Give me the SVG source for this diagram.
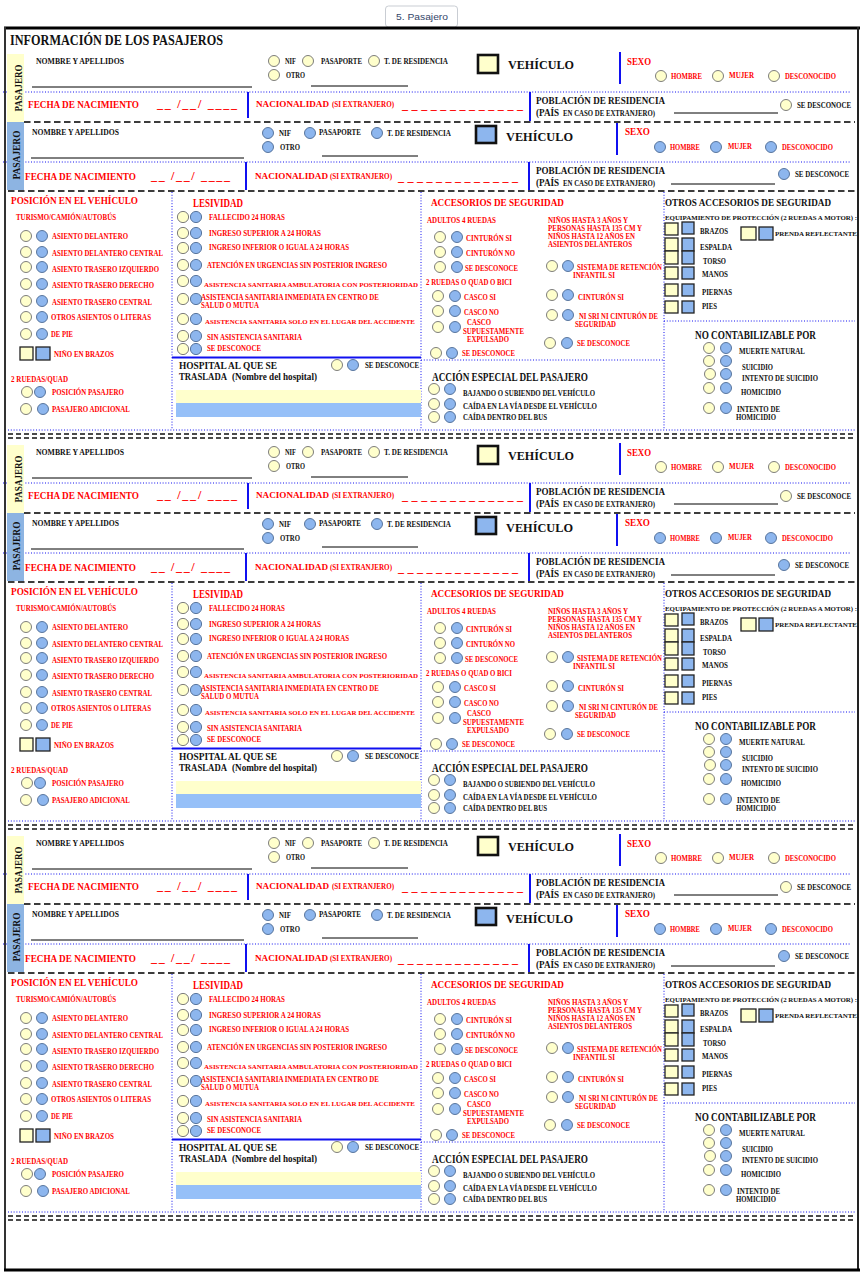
<svg xmlns="http://www.w3.org/2000/svg" width="863" height="1274" viewBox="0 0 863 1274">
<style>
.t{font-family:"Liberation Serif","Times New Roman",serif;font-weight:700}
.r{fill:#FF0000}
.k{fill:#111}
.f7{font-size:7.5px}
.f68{font-size:6.8px}
.f70{font-size:7px}
.f8{font-size:8.5px}
.f10{font-size:10px}
.ff{font-size:10.3px}
.f11{font-size:11px}
.f12{font-size:12px}
.f13{font-size:13px}
.tr{font-size:9.5px}
.y{fill:#FFFFCC;stroke:#6E6E6E;stroke-width:0.9}
.b{fill:#8DB6EE;stroke:#4C6A93;stroke-width:0.9}
.ys{fill:#FFFFCC;stroke:#222;stroke-width:1.3}
.bs{fill:#8DB6EE;stroke:#222;stroke-width:1.3}
.veh{stroke:#111;stroke-width:2.6}
.dot{stroke:#1010F0;stroke-width:1;stroke-dasharray:1 1.8;fill:none}
.dash{stroke:#3C3C3C;stroke-width:2;stroke-dasharray:6.5 3.5;fill:none}
.dd{stroke:#111;stroke-width:1.6;stroke-dasharray:5 3;fill:none}
.vb{stroke:#1010F0;stroke-width:2}
.ul{stroke:#000;stroke-width:1}
.bar-y{fill:#FFFFCC}
.bar-b{fill:#96C0F8}
</style>

<g id="frame">
<rect x="385.5" y="6" width="72" height="21" rx="3" fill="#FFFFFF" stroke="#C9CDD3" stroke-width="1"/>
<text x="396" y="19.5" font-family="'Liberation Sans','DejaVu Sans',sans-serif" font-size="9.5" fill="#34466A" textLength="52" lengthAdjust="spacingAndGlyphs">5. Pasajero</text>
<line x1="4" y1="28" x2="860" y2="28" stroke="#000" stroke-width="3"/>
<line x1="5" y1="27" x2="5" y2="1271" stroke="#333" stroke-width="2"/>
<line x1="858" y1="27" x2="858" y2="1271" stroke="#222" stroke-width="2"/>
<line x1="4" y1="1270" x2="860" y2="1270" stroke="#000" stroke-width="3"/>
<text class="t k" font-size="14" x="10" y="45" textLength="213" lengthAdjust="spacingAndGlyphs">INFORMACIÓN DE LOS PASAJEROS</text>
</g>

<!-- ================= BLOCK 1 ================= -->
<g id="b1">
<g id="b1-connectors">
<line class="dot" x1="3" y1="92" x2="850" y2="92"/>
<line class="dash" x1="24" y1="122" x2="855" y2="122"/>
<line class="dot" x1="3" y1="162" x2="850" y2="162"/>
<line class="dash" x1="8" y1="191" x2="855" y2="191"/>
<line class="vb" x1="620" y1="52" x2="620" y2="84"/>
<line class="vb" x1="248" y1="92" x2="248" y2="118"/>
<line class="vb" x1="530" y1="92" x2="530" y2="121"/>
<line class="vb" x1="617" y1="123" x2="617" y2="155"/>
<line class="vb" x1="246" y1="162" x2="246" y2="190"/>
<line class="vb" x1="529" y1="162" x2="529" y2="190"/>
<line class="dot" x1="172" y1="192" x2="172" y2="430"/>
<line class="dot" x1="421" y1="192" x2="421" y2="430"/>
<line class="dot" x1="664" y1="192" x2="664" y2="430"/>
<line class="vb" x1="172" y1="357.5" x2="421" y2="357.5" stroke-width="2.4"/>
<line class="dot" x1="421" y1="360" x2="664" y2="360"/>
<line class="dot" x1="664" y1="321" x2="855" y2="321"/>
<line class="dot" x1="8" y1="430" x2="855" y2="430"/>
<line class="dd" x1="8" y1="434" x2="855" y2="434"/>
<line class="dd" x1="8" y1="438" x2="855" y2="438"/>
</g>
<g id="b1-pasajero-a">
<rect x="7" y="54" width="17" height="68" fill="#FFFFCC"/>
<text class="t k f10" text-anchor="middle" transform="translate(21.5,88) rotate(-90)" textLength="47" lengthAdjust="spacingAndGlyphs">PASAJERO</text>
<text class="t k f8" x="36" y="64" textLength="88" lengthAdjust="spacingAndGlyphs">NOMBRE Y APELLIDOS</text>
<line class="ul" x1="32" y1="87" x2="252" y2="87"/>
<circle class="y" cx="274" cy="61" r="5.5"/><circle class="y" cx="308" cy="61" r="5.5"/><circle class="y" cx="374" cy="61" r="5.5"/><circle class="y" cx="274" cy="75" r="5.5"/>
<text class="t k f7" x="285" y="64" textLength="11" lengthAdjust="spacingAndGlyphs">NIF</text>
<text class="t k f7" x="321" y="64" textLength="41" lengthAdjust="spacingAndGlyphs">PASAPORTE</text>
<text class="t k f7" x="384" y="64" textLength="64" lengthAdjust="spacingAndGlyphs">T. DE RESIDENCIA</text>
<text class="t k f7" x="286" y="78" textLength="19" lengthAdjust="spacingAndGlyphs">OTRO</text>
<line class="ul" x1="311" y1="86" x2="408" y2="86"/>
<rect class="veh" x="478" y="55" width="20" height="18" fill="#FFFFCC"/>
<text class="t k f13" x="508" y="69" textLength="66" lengthAdjust="spacingAndGlyphs">VEHÍCULO</text>
<text class="t r f11" x="627" y="65" textLength="24" lengthAdjust="spacingAndGlyphs">SEXO</text>
<circle class="y" cx="661" cy="76" r="5.5"/><circle class="y" cx="718" cy="76" r="5.5"/><circle class="y" cx="774" cy="76" r="5.5"/>
<text class="t r f7" x="671" y="79" textLength="31" lengthAdjust="spacingAndGlyphs">HOMBRE</text>
<text class="t r f7" x="729" y="78" textLength="25" lengthAdjust="spacingAndGlyphs">MUJER</text>
<text class="t r f7" x="785" y="79" textLength="51" lengthAdjust="spacingAndGlyphs">DESCONOCIDO</text>
<text class="t r ff" x="28" y="108" textLength="111" lengthAdjust="spacingAndGlyphs">FECHA DE NACIMIENTO</text>
<text class="t r f12" x="157" y="108" textLength="80" lengthAdjust="spacing">__ /__/ ____</text>
<text class="t r" font-size="7.6"><tspan font-size="9.2" x="256" y="107" textLength="73" lengthAdjust="spacingAndGlyphs">NACIONALIDAD</tspan> <tspan x="332" y="107" textLength="62" lengthAdjust="spacingAndGlyphs">(SI EXTRANJERO)</tspan></text>
<text class="t r f12" x="402" y="109" textLength="121" lengthAdjust="spacing">_ _ _ _ _ _ _ _ _ _ _ _ _</text>
<text class="t k f11" x="536" y="104" textLength="129" lengthAdjust="spacingAndGlyphs">POBLACIÓN DE RESIDENCIA</text>
<text class="t k f7"><tspan class="f10" x="536" y="116" textLength="23" lengthAdjust="spacingAndGlyphs">(PAÍS</tspan> <tspan x="563" y="116" textLength="92" lengthAdjust="spacingAndGlyphs">EN CASO DE EXTRANJERO)</tspan></text>
<line class="ul" x1="674" y1="113" x2="778" y2="113"/>
<circle class="y" cx="786" cy="105" r="5.5"/>
<text class="t k f7" x="797" y="108" textLength="54" lengthAdjust="spacingAndGlyphs">SE DESCONOCE</text>
</g>
<g id="b1-pasajero-b">
<rect x="7" y="122" width="17" height="68" fill="#8DB4E2"/>
<text class="t k f10" text-anchor="middle" transform="translate(19.5,155) rotate(-90)" textLength="49" lengthAdjust="spacingAndGlyphs">PASAJERO</text>
<text class="t k f8" x="32" y="135" textLength="87" lengthAdjust="spacingAndGlyphs">NOMBRE Y APELLIDOS</text>
<line class="ul" x1="31" y1="158" x2="244" y2="158"/>
<circle class="b" cx="268" cy="133" r="5.5"/><circle class="b" cx="310" cy="133" r="5.5"/><circle class="b" cx="377" cy="133" r="5.5"/><circle class="b" cx="268" cy="147" r="5.5"/>
<text class="t k f7" x="279" y="136" textLength="12" lengthAdjust="spacingAndGlyphs">NIF</text>
<text class="t k f7" x="319" y="135" textLength="42" lengthAdjust="spacingAndGlyphs">PASAPORTE</text>
<text class="t k f7" x="387" y="136" textLength="64" lengthAdjust="spacingAndGlyphs">T. DE RESIDENCIA</text>
<text class="t k f7" x="280" y="150" textLength="20" lengthAdjust="spacingAndGlyphs">OTRO</text>
<line class="ul" x1="322" y1="156" x2="418" y2="156"/>
<rect class="veh" x="476" y="126" width="20" height="17" fill="#8DB6EE"/>
<text class="t k f13" x="506" y="141" textLength="67" lengthAdjust="spacingAndGlyphs">VEHÍCULO</text>
<text class="t r f11" x="625" y="135" textLength="25" lengthAdjust="spacingAndGlyphs">SEXO</text>
<circle class="b" cx="660" cy="147" r="5.5"/><circle class="b" cx="716" cy="147" r="5.5"/><circle class="b" cx="771" cy="147" r="5.5"/>
<text class="t r f7" x="670" y="150" textLength="30" lengthAdjust="spacingAndGlyphs">HOMBRE</text>
<text class="t r f7" x="728" y="149" textLength="24" lengthAdjust="spacingAndGlyphs">MUJER</text>
<text class="t r f7" x="782" y="150" textLength="51" lengthAdjust="spacingAndGlyphs">DESCONOCIDO</text>
<text class="t r ff" x="25" y="180" textLength="111" lengthAdjust="spacingAndGlyphs">FECHA DE NACIMIENTO</text>
<text class="t r f12" x="151" y="180" textLength="79" lengthAdjust="spacing">__ /__/ ____</text>
<text class="t r" font-size="7.5"><tspan font-size="9.1" x="255" y="179" textLength="73" lengthAdjust="spacingAndGlyphs">NACIONALIDAD</tspan> <tspan x="330" y="179" textLength="62" lengthAdjust="spacingAndGlyphs">(SI EXTRANJERO)</tspan></text>
<text class="t r f12" x="398" y="181" textLength="120" lengthAdjust="spacing">_ _ _ _ _ _ _ _ _ _ _ _ _</text>
<text class="t k f11" x="536" y="174" textLength="129" lengthAdjust="spacingAndGlyphs">POBLACIÓN DE RESIDENCIA</text>
<text class="t k f7"><tspan class="f10" x="536" y="186" textLength="23" lengthAdjust="spacingAndGlyphs">(PAÍS</tspan> <tspan x="563" y="186" textLength="92" lengthAdjust="spacingAndGlyphs">EN CASO DE EXTRANJERO)</tspan></text>
<line class="ul" x1="671" y1="184" x2="775" y2="184"/>
<circle class="b" cx="784" cy="174" r="5.5"/>
<text class="t k f7" x="795" y="177" textLength="54" lengthAdjust="spacingAndGlyphs">SE DESCONOCE</text>
</g>
<g id="b1-posicion">
<text class="t r f11" x="11" y="204" textLength="127" lengthAdjust="spacingAndGlyphs">POSICIÓN EN EL VEHÍCULO</text>
<text class="t r f7" x="16" y="220" textLength="100" lengthAdjust="spacingAndGlyphs">TURISMO/CAMIÓN/AUTOBÚS</text>
<circle class="y" cx="26" cy="236" r="5.5"/><circle class="b" cx="42" cy="236" r="5.5"/>
<circle class="y" cx="26" cy="252" r="5.5"/><circle class="b" cx="42" cy="252" r="5.5"/>
<circle class="y" cx="26" cy="267" r="5.5"/><circle class="b" cx="42" cy="267" r="5.5"/>
<circle class="y" cx="26" cy="284" r="5.5"/><circle class="b" cx="42" cy="284" r="5.5"/>
<circle class="y" cx="26" cy="301" r="5.5"/><circle class="b" cx="42" cy="301" r="5.5"/>
<circle class="y" cx="26" cy="317" r="5.5"/><circle class="b" cx="42" cy="317" r="5.5"/>
<circle class="y" cx="26" cy="334" r="5.5"/><circle class="b" cx="42" cy="334" r="5.5"/>
<text class="t r f7" x="52" y="239" textLength="76" lengthAdjust="spacingAndGlyphs">ASIENTO DELANTERO</text>
<text class="t r f7" x="52" y="256" textLength="111" lengthAdjust="spacingAndGlyphs">ASIENTO DELANTERO CENTRAL</text>
<text class="t r f7" x="52" y="272" textLength="107" lengthAdjust="spacingAndGlyphs">ASIENTO TRASERO IZQUIERDO</text>
<text class="t r f7" x="52" y="288" textLength="102" lengthAdjust="spacingAndGlyphs">ASIENTO TRASERO DERECHO</text>
<text class="t r f7" x="52" y="305" textLength="100" lengthAdjust="spacingAndGlyphs">ASIENTO TRASERO CENTRAL</text>
<text class="t r f7" x="51" y="320" textLength="100" lengthAdjust="spacingAndGlyphs">OTROS ASIENTOS O LITERAS</text>
<text class="t r f7" x="51" y="337" textLength="22" lengthAdjust="spacingAndGlyphs">DE PIE</text>
<rect class="ys" x="20" y="347" width="13" height="13"/><rect class="bs" x="36" y="347" width="14" height="13"/>
<text class="t r f7" x="54" y="357" textLength="60" lengthAdjust="spacingAndGlyphs">NIÑO EN BRAZOS</text>
<text class="t r f7" x="11" y="382" textLength="57" lengthAdjust="spacingAndGlyphs">2 RUEDAS/QUAD</text>
<circle class="y" cx="27" cy="392" r="5.5"/><circle class="b" cx="40" cy="392" r="5.5"/>
<text class="t r f7" x="52" y="395" textLength="72" lengthAdjust="spacingAndGlyphs">POSICIÓN PASAJERO</text>
<circle class="y" cx="26" cy="409" r="5.5"/><circle class="b" cx="43" cy="409" r="5.5"/>
<text class="t r f7" x="52" y="412" textLength="78" lengthAdjust="spacingAndGlyphs">PASAJERO ADICIONAL</text>
</g>
<g id="b1-lesividad">
<text class="t r f12" x="193" y="207" textLength="50" lengthAdjust="spacingAndGlyphs">LESIVIDAD</text>
<circle class="y" cx="183" cy="217" r="5.6"/><circle class="b" cx="196" cy="217" r="5.6"/>
<circle class="y" cx="183" cy="233" r="5.6"/><circle class="b" cx="196" cy="233" r="5.6"/>
<circle class="y" cx="183" cy="248" r="5.6"/><circle class="b" cx="196" cy="248" r="5.6"/>
<circle class="y" cx="183" cy="265" r="5.6"/><circle class="b" cx="196" cy="265" r="5.6"/>
<circle class="y" cx="183" cy="281" r="5.6"/><circle class="b" cx="196" cy="281" r="5.6"/>
<circle class="y" cx="183" cy="299" r="5.6"/><circle class="b" cx="196" cy="299" r="5.6"/>
<circle class="y" cx="183" cy="319" r="5.6"/><circle class="b" cx="196" cy="319" r="5.6"/>
<circle class="y" cx="183" cy="336" r="5.6"/><circle class="b" cx="196" cy="336" r="5.6"/>
<circle class="y" cx="183" cy="349" r="5.6"/><circle class="b" cx="196" cy="349" r="5.6"/>
<text class="t r f7" x="209" y="220" textLength="76" lengthAdjust="spacingAndGlyphs">FALLECIDO 24 HORAS</text>
<text class="t r f7" x="209" y="236" textLength="112" lengthAdjust="spacingAndGlyphs">INGRESO SUPERIOR A  24 HORAS</text>
<text class="t r f7" x="209" y="250" textLength="140" lengthAdjust="spacingAndGlyphs">INGRESO INFERIOR O IGUAL A 24 HORAS</text>
<text class="t r f7" x="207" y="268" textLength="180" lengthAdjust="spacingAndGlyphs">ATENCIÓN EN URGENCIAS SIN POSTERIOR INGRESO</text>
<text class="t r f68" x="204" y="287" textLength="214" lengthAdjust="spacingAndGlyphs">ASISTENCIA SANITARIA AMBULATORIA CON POSTERIORIDAD</text>
<text class="t r f7" x="201" y="300" textLength="178" lengthAdjust="spacingAndGlyphs">ASISTENCIA SANITARIA INMEDIATA EN CENTRO DE</text>
<text class="t r f7" x="201" y="308" textLength="58" lengthAdjust="spacingAndGlyphs">SALUD O MUTUA</text>
<text class="t r f68" x="205" y="324" textLength="210" lengthAdjust="spacingAndGlyphs">ASISTENCIA SANITARIA SOLO EN EL LUGAR DEL ACCIDENTE</text>
<text class="t r f7" x="207" y="340" textLength="95" lengthAdjust="spacingAndGlyphs">SIN ASISTENCIA SANITARIA</text>
<text class="t r f7" x="207" y="351" textLength="54" lengthAdjust="spacingAndGlyphs">SE DESCONOCE</text>
</g>
<g id="b1-hospital">
<text class="t k f11" x="179" y="369" textLength="98" lengthAdjust="spacingAndGlyphs">HOSPITAL AL QUE SE</text>
<text class="t k f10"><tspan class="tr" x="179" y="380" textLength="48" lengthAdjust="spacingAndGlyphs">TRASLADA</tspan> <tspan x="232" y="380" textLength="85" lengthAdjust="spacingAndGlyphs">(Nombre del hospital)</tspan></text>
<circle class="y" cx="337" cy="365" r="5.5"/><circle class="b" cx="353" cy="365" r="5.5"/>
<text class="t k f7" x="365" y="368" textLength="54" lengthAdjust="spacingAndGlyphs">SE DESCONOCE</text>
<rect class="bar-y" x="176" y="390" width="245" height="13"/>
<rect class="bar-b" x="176" y="403" width="245" height="14"/>
</g>
<g id="b1-accesorios">
<text class="t r f11" x="431" y="206" textLength="133" lengthAdjust="spacingAndGlyphs">ACCESORIOS DE SEGURIDAD</text>
<text class="t r f7" x="427" y="223" textLength="69" lengthAdjust="spacingAndGlyphs">ADULTOS 4 RUEDAS</text>
<circle class="y" cx="440" cy="237" r="5.5"/><circle class="b" cx="457" cy="237" r="5.5"/>
<circle class="y" cx="440" cy="252" r="5.5"/><circle class="b" cx="457" cy="252" r="5.5"/>
<circle class="y" cx="440" cy="267" r="5.5"/><circle class="b" cx="457" cy="267" r="5.5"/>
<text class="t r f7" x="466" y="241" textLength="46" lengthAdjust="spacingAndGlyphs">CINTURÓN SI</text>
<text class="t r f7" x="466" y="256" textLength="49" lengthAdjust="spacingAndGlyphs">CINTURÓN NO</text>
<text class="t r f7" x="465" y="271" textLength="53" lengthAdjust="spacingAndGlyphs">SE DESCONOCE</text>
<text class="t r f7" x="426" y="285" textLength="86" lengthAdjust="spacingAndGlyphs">2 RUEDAS O QUAD O BICI</text>
<circle class="y" cx="438" cy="296" r="5.5"/><circle class="b" cx="455" cy="296" r="5.5"/>
<circle class="y" cx="438" cy="311" r="5.5"/><circle class="b" cx="455" cy="311" r="5.5"/>
<circle class="y" cx="438" cy="327" r="5.5"/><circle class="b" cx="455" cy="327" r="5.5"/>
<circle class="y" cx="436" cy="353" r="5.5"/><circle class="b" cx="452" cy="353" r="5.5"/>
<text class="t r f7" x="464" y="300" textLength="32" lengthAdjust="spacingAndGlyphs">CASCO SI</text>
<text class="t r f7" x="464" y="315" textLength="35" lengthAdjust="spacingAndGlyphs">CASCO NO</text>
<text class="t r f7" x="467" y="325" textLength="24" lengthAdjust="spacingAndGlyphs">CASCO</text>
<text class="t r f7" x="463" y="334" textLength="61" lengthAdjust="spacingAndGlyphs">SUPUESTAMENTE</text>
<text class="t r f7" x="467" y="342" textLength="42" lengthAdjust="spacingAndGlyphs">EXPULSADO</text>
<text class="t r f7" x="462" y="356" textLength="53" lengthAdjust="spacingAndGlyphs">SE DESCONOCE</text>
<text class="t r f7" x="548" y="223" textLength="80" lengthAdjust="spacingAndGlyphs">NIÑOS HASTA 3 AÑOS Y</text>
<text class="t r f7" x="548" y="231" textLength="94" lengthAdjust="spacingAndGlyphs">PERSONAS HASTA 135 CM Y</text>
<text class="t r f7" x="548" y="239" textLength="87" lengthAdjust="spacingAndGlyphs">NIÑOS HASTA 12 AÑOS EN</text>
<text class="t r f7" x="548" y="247" textLength="84" lengthAdjust="spacingAndGlyphs">ASIENTOS DELANTEROS</text>
<circle class="y" cx="552" cy="266" r="5.5"/><circle class="b" cx="568" cy="266" r="5.5"/>
<circle class="y" cx="552" cy="295" r="5.5"/><circle class="b" cx="568" cy="295" r="5.5"/>
<circle class="y" cx="552" cy="315" r="5.5"/><circle class="b" cx="568" cy="315" r="5.5"/>
<circle class="y" cx="550" cy="343" r="5.5"/><circle class="b" cx="567" cy="343" r="5.5"/>
<text class="t r f7" x="577" y="270" textLength="85" lengthAdjust="spacingAndGlyphs">SISTEMA DE RETENCIÓN</text>
<text class="t r f7" x="573" y="278" textLength="42" lengthAdjust="spacingAndGlyphs">INFANTIL SI</text>
<text class="t r f7" x="578" y="300" textLength="46" lengthAdjust="spacingAndGlyphs">CINTURÓN SI</text>
<text class="t r f7" x="579" y="319" textLength="79" lengthAdjust="spacingAndGlyphs">NI SRI NI CINTURÓN DE</text>
<text class="t r f7" x="575" y="327" textLength="41" lengthAdjust="spacingAndGlyphs">SEGURIDAD</text>
<text class="t r f7" x="577" y="346" textLength="53" lengthAdjust="spacingAndGlyphs">SE DESCONOCE</text>
</g>
<g id="b1-accion">
<text class="t k f12" x="432" y="381" textLength="156" lengthAdjust="spacingAndGlyphs">ACCIÓN ESPECIAL DEL PASAJERO</text>
<circle class="y" cx="434" cy="389" r="5.5"/><circle class="b" cx="450" cy="389" r="5.5"/>
<circle class="y" cx="434" cy="404" r="5.5"/><circle class="b" cx="450" cy="404" r="5.5"/>
<circle class="y" cx="434" cy="417" r="5.5"/><circle class="b" cx="450" cy="417" r="5.5"/>
<text class="t k f7" x="463" y="396" textLength="132" lengthAdjust="spacingAndGlyphs">BAJANDO O SUBIENDO DEL VEHÍCULO</text>
<text class="t k f7" x="463" y="409" textLength="134" lengthAdjust="spacingAndGlyphs">CAÍDA EN LA VÍA DESDE EL VEHÍCULO</text>
<text class="t k f7" x="463" y="420" textLength="84" lengthAdjust="spacingAndGlyphs">CAÍDA DENTRO DEL BUS</text>
</g>
<g id="b1-otros">
<text class="t k" font-size="10.6" x="665" y="206" textLength="166" lengthAdjust="spacingAndGlyphs">OTROS ACCESORIOS DE SEGURIDAD</text>
<text class="t k f70" x="665" y="220" textLength="192" lengthAdjust="spacingAndGlyphs">EQUIPAMIENTO DE PROTECCIÓN (2 RUEDAS A MOTOR) :</text>
<rect class="ys" x="665" y="223" width="13" height="12"/><rect class="bs" x="682" y="222" width="12" height="12"/>
<rect class="ys" x="665" y="238" width="13" height="13"/><rect class="bs" x="682" y="238" width="12" height="13"/>
<rect class="ys" x="665" y="251" width="13" height="13"/><rect class="bs" x="682" y="251" width="12" height="13"/>
<rect class="ys" x="665" y="267" width="13" height="12"/><rect class="bs" x="682" y="267" width="12" height="12"/>
<rect class="ys" x="665" y="284" width="13" height="12"/><rect class="bs" x="682" y="284" width="12" height="12"/>
<rect class="ys" x="665" y="301" width="13" height="12"/><rect class="bs" x="682" y="301" width="12" height="12"/>
<text class="t k f7" x="700" y="234" textLength="28" lengthAdjust="spacingAndGlyphs">BRAZOS</text>
<text class="t k f7" x="700" y="250" textLength="32" lengthAdjust="spacingAndGlyphs">ESPALDA</text>
<text class="t k f7" x="703" y="264" textLength="23" lengthAdjust="spacingAndGlyphs">TORSO</text>
<text class="t k f7" x="702" y="277" textLength="26" lengthAdjust="spacingAndGlyphs">MANOS</text>
<text class="t k f7" x="702" y="295" textLength="30" lengthAdjust="spacingAndGlyphs">PIERNAS</text>
<text class="t k f7" x="702" y="309" textLength="15" lengthAdjust="spacingAndGlyphs">PIES</text>
<rect class="ys" x="741" y="227" width="15" height="13"/><rect class="bs" x="759" y="227" width="14" height="13"/>
<text class="t k f70" x="775" y="236" textLength="82" lengthAdjust="spacingAndGlyphs">PRENDA REFLECTANTE</text>
</g>
<g id="b1-nocontab">
<text class="t k" font-size="12.3" x="695" y="339" textLength="121" lengthAdjust="spacingAndGlyphs">NO CONTABILIZABLE POR</text>
<circle class="y" cx="709" cy="348" r="5.5"/><circle class="b" cx="726" cy="348" r="5.5"/>
<circle class="y" cx="709" cy="361" r="5.5"/><circle class="b" cx="726" cy="361" r="5.5"/>
<circle class="y" cx="710" cy="374" r="5.5"/><circle class="b" cx="726" cy="374" r="5.5"/>
<circle class="y" cx="709" cy="388" r="5.5"/><circle class="b" cx="726" cy="388" r="5.5"/>
<circle class="y" cx="709" cy="408" r="5.5"/><circle class="b" cx="726" cy="408" r="5.5"/>
<text class="t k f7" x="739" y="354" textLength="66" lengthAdjust="spacingAndGlyphs">MUERTE NATURAL</text>
<text class="t k f7" x="742" y="370" textLength="31" lengthAdjust="spacingAndGlyphs">SUICIDIO</text>
<text class="t k f7" x="742" y="381" textLength="76" lengthAdjust="spacingAndGlyphs">INTENTO DE SUICIDIO</text>
<text class="t k f7" x="741" y="395" textLength="40" lengthAdjust="spacingAndGlyphs">HOMICIDIO</text>
<text class="t k f7" x="737" y="412" textLength="43" lengthAdjust="spacingAndGlyphs">INTENTO DE</text>
<text class="t k f7" x="736" y="420" textLength="40" lengthAdjust="spacingAndGlyphs">HOMICIDIO</text>
</g>
</g>

<!-- ================= BLOCK 2 ================= -->
<g id="b2" transform="translate(0,391)">
<g id="b2-connectors">
<line class="dot" x1="3" y1="92" x2="850" y2="92"/>
<line class="dash" x1="24" y1="122" x2="855" y2="122"/>
<line class="dot" x1="3" y1="162" x2="850" y2="162"/>
<line class="dash" x1="8" y1="191" x2="855" y2="191"/>
<line class="vb" x1="620" y1="52" x2="620" y2="84"/>
<line class="vb" x1="248" y1="92" x2="248" y2="118"/>
<line class="vb" x1="530" y1="92" x2="530" y2="121"/>
<line class="vb" x1="617" y1="123" x2="617" y2="155"/>
<line class="vb" x1="246" y1="162" x2="246" y2="190"/>
<line class="vb" x1="529" y1="162" x2="529" y2="190"/>
<line class="dot" x1="172" y1="192" x2="172" y2="430"/>
<line class="dot" x1="421" y1="192" x2="421" y2="430"/>
<line class="dot" x1="664" y1="192" x2="664" y2="430"/>
<line class="vb" x1="172" y1="357.5" x2="421" y2="357.5" stroke-width="2.4"/>
<line class="dot" x1="421" y1="360" x2="664" y2="360"/>
<line class="dot" x1="664" y1="321" x2="855" y2="321"/>
<line class="dot" x1="8" y1="430" x2="855" y2="430"/>
<line class="dd" x1="8" y1="434" x2="855" y2="434"/>
<line class="dd" x1="8" y1="438" x2="855" y2="438"/>
</g>
<g id="b2-pasajero-a">
<rect x="7" y="54" width="17" height="68" fill="#FFFFCC"/>
<text class="t k f10" text-anchor="middle" transform="translate(21.5,88) rotate(-90)" textLength="47" lengthAdjust="spacingAndGlyphs">PASAJERO</text>
<text class="t k f8" x="36" y="64" textLength="88" lengthAdjust="spacingAndGlyphs">NOMBRE Y APELLIDOS</text>
<line class="ul" x1="32" y1="87" x2="252" y2="87"/>
<circle class="y" cx="274" cy="61" r="5.5"/><circle class="y" cx="308" cy="61" r="5.5"/><circle class="y" cx="374" cy="61" r="5.5"/><circle class="y" cx="274" cy="75" r="5.5"/>
<text class="t k f7" x="285" y="64" textLength="11" lengthAdjust="spacingAndGlyphs">NIF</text>
<text class="t k f7" x="321" y="64" textLength="41" lengthAdjust="spacingAndGlyphs">PASAPORTE</text>
<text class="t k f7" x="384" y="64" textLength="64" lengthAdjust="spacingAndGlyphs">T. DE RESIDENCIA</text>
<text class="t k f7" x="286" y="78" textLength="19" lengthAdjust="spacingAndGlyphs">OTRO</text>
<line class="ul" x1="311" y1="86" x2="408" y2="86"/>
<rect class="veh" x="478" y="55" width="20" height="18" fill="#FFFFCC"/>
<text class="t k f13" x="508" y="69" textLength="66" lengthAdjust="spacingAndGlyphs">VEHÍCULO</text>
<text class="t r f11" x="627" y="65" textLength="24" lengthAdjust="spacingAndGlyphs">SEXO</text>
<circle class="y" cx="661" cy="76" r="5.5"/><circle class="y" cx="718" cy="76" r="5.5"/><circle class="y" cx="774" cy="76" r="5.5"/>
<text class="t r f7" x="671" y="79" textLength="31" lengthAdjust="spacingAndGlyphs">HOMBRE</text>
<text class="t r f7" x="729" y="78" textLength="25" lengthAdjust="spacingAndGlyphs">MUJER</text>
<text class="t r f7" x="785" y="79" textLength="51" lengthAdjust="spacingAndGlyphs">DESCONOCIDO</text>
<text class="t r ff" x="28" y="108" textLength="111" lengthAdjust="spacingAndGlyphs">FECHA DE NACIMIENTO</text>
<text class="t r f12" x="157" y="108" textLength="80" lengthAdjust="spacing">__ /__/ ____</text>
<text class="t r" font-size="7.6"><tspan font-size="9.2" x="256" y="107" textLength="73" lengthAdjust="spacingAndGlyphs">NACIONALIDAD</tspan> <tspan x="332" y="107" textLength="62" lengthAdjust="spacingAndGlyphs">(SI EXTRANJERO)</tspan></text>
<text class="t r f12" x="402" y="109" textLength="121" lengthAdjust="spacing">_ _ _ _ _ _ _ _ _ _ _ _ _</text>
<text class="t k f11" x="536" y="104" textLength="129" lengthAdjust="spacingAndGlyphs">POBLACIÓN DE RESIDENCIA</text>
<text class="t k f7"><tspan class="f10" x="536" y="116" textLength="23" lengthAdjust="spacingAndGlyphs">(PAÍS</tspan> <tspan x="563" y="116" textLength="92" lengthAdjust="spacingAndGlyphs">EN CASO DE EXTRANJERO)</tspan></text>
<line class="ul" x1="674" y1="113" x2="778" y2="113"/>
<circle class="y" cx="786" cy="105" r="5.5"/>
<text class="t k f7" x="797" y="108" textLength="54" lengthAdjust="spacingAndGlyphs">SE DESCONOCE</text>
</g>
<g id="b2-pasajero-b">
<rect x="7" y="122" width="17" height="68" fill="#8DB4E2"/>
<text class="t k f10" text-anchor="middle" transform="translate(19.5,155) rotate(-90)" textLength="49" lengthAdjust="spacingAndGlyphs">PASAJERO</text>
<text class="t k f8" x="32" y="135" textLength="87" lengthAdjust="spacingAndGlyphs">NOMBRE Y APELLIDOS</text>
<line class="ul" x1="31" y1="158" x2="244" y2="158"/>
<circle class="b" cx="268" cy="133" r="5.5"/><circle class="b" cx="310" cy="133" r="5.5"/><circle class="b" cx="377" cy="133" r="5.5"/><circle class="b" cx="268" cy="147" r="5.5"/>
<text class="t k f7" x="279" y="136" textLength="12" lengthAdjust="spacingAndGlyphs">NIF</text>
<text class="t k f7" x="319" y="135" textLength="42" lengthAdjust="spacingAndGlyphs">PASAPORTE</text>
<text class="t k f7" x="387" y="136" textLength="64" lengthAdjust="spacingAndGlyphs">T. DE RESIDENCIA</text>
<text class="t k f7" x="280" y="150" textLength="20" lengthAdjust="spacingAndGlyphs">OTRO</text>
<line class="ul" x1="322" y1="156" x2="418" y2="156"/>
<rect class="veh" x="476" y="126" width="20" height="17" fill="#8DB6EE"/>
<text class="t k f13" x="506" y="141" textLength="67" lengthAdjust="spacingAndGlyphs">VEHÍCULO</text>
<text class="t r f11" x="625" y="135" textLength="25" lengthAdjust="spacingAndGlyphs">SEXO</text>
<circle class="b" cx="660" cy="147" r="5.5"/><circle class="b" cx="716" cy="147" r="5.5"/><circle class="b" cx="771" cy="147" r="5.5"/>
<text class="t r f7" x="670" y="150" textLength="30" lengthAdjust="spacingAndGlyphs">HOMBRE</text>
<text class="t r f7" x="728" y="149" textLength="24" lengthAdjust="spacingAndGlyphs">MUJER</text>
<text class="t r f7" x="782" y="150" textLength="51" lengthAdjust="spacingAndGlyphs">DESCONOCIDO</text>
<text class="t r ff" x="25" y="180" textLength="111" lengthAdjust="spacingAndGlyphs">FECHA DE NACIMIENTO</text>
<text class="t r f12" x="151" y="180" textLength="79" lengthAdjust="spacing">__ /__/ ____</text>
<text class="t r" font-size="7.5"><tspan font-size="9.1" x="255" y="179" textLength="73" lengthAdjust="spacingAndGlyphs">NACIONALIDAD</tspan> <tspan x="330" y="179" textLength="62" lengthAdjust="spacingAndGlyphs">(SI EXTRANJERO)</tspan></text>
<text class="t r f12" x="398" y="181" textLength="120" lengthAdjust="spacing">_ _ _ _ _ _ _ _ _ _ _ _ _</text>
<text class="t k f11" x="536" y="174" textLength="129" lengthAdjust="spacingAndGlyphs">POBLACIÓN DE RESIDENCIA</text>
<text class="t k f7"><tspan class="f10" x="536" y="186" textLength="23" lengthAdjust="spacingAndGlyphs">(PAÍS</tspan> <tspan x="563" y="186" textLength="92" lengthAdjust="spacingAndGlyphs">EN CASO DE EXTRANJERO)</tspan></text>
<line class="ul" x1="671" y1="184" x2="775" y2="184"/>
<circle class="b" cx="784" cy="174" r="5.5"/>
<text class="t k f7" x="795" y="177" textLength="54" lengthAdjust="spacingAndGlyphs">SE DESCONOCE</text>
</g>
<g id="b2-posicion">
<text class="t r f11" x="11" y="204" textLength="127" lengthAdjust="spacingAndGlyphs">POSICIÓN EN EL VEHÍCULO</text>
<text class="t r f7" x="16" y="220" textLength="100" lengthAdjust="spacingAndGlyphs">TURISMO/CAMIÓN/AUTOBÚS</text>
<circle class="y" cx="26" cy="236" r="5.5"/><circle class="b" cx="42" cy="236" r="5.5"/>
<circle class="y" cx="26" cy="252" r="5.5"/><circle class="b" cx="42" cy="252" r="5.5"/>
<circle class="y" cx="26" cy="267" r="5.5"/><circle class="b" cx="42" cy="267" r="5.5"/>
<circle class="y" cx="26" cy="284" r="5.5"/><circle class="b" cx="42" cy="284" r="5.5"/>
<circle class="y" cx="26" cy="301" r="5.5"/><circle class="b" cx="42" cy="301" r="5.5"/>
<circle class="y" cx="26" cy="317" r="5.5"/><circle class="b" cx="42" cy="317" r="5.5"/>
<circle class="y" cx="26" cy="334" r="5.5"/><circle class="b" cx="42" cy="334" r="5.5"/>
<text class="t r f7" x="52" y="239" textLength="76" lengthAdjust="spacingAndGlyphs">ASIENTO DELANTERO</text>
<text class="t r f7" x="52" y="256" textLength="111" lengthAdjust="spacingAndGlyphs">ASIENTO DELANTERO CENTRAL</text>
<text class="t r f7" x="52" y="272" textLength="107" lengthAdjust="spacingAndGlyphs">ASIENTO TRASERO IZQUIERDO</text>
<text class="t r f7" x="52" y="288" textLength="102" lengthAdjust="spacingAndGlyphs">ASIENTO TRASERO DERECHO</text>
<text class="t r f7" x="52" y="305" textLength="100" lengthAdjust="spacingAndGlyphs">ASIENTO TRASERO CENTRAL</text>
<text class="t r f7" x="51" y="320" textLength="100" lengthAdjust="spacingAndGlyphs">OTROS ASIENTOS O LITERAS</text>
<text class="t r f7" x="51" y="337" textLength="22" lengthAdjust="spacingAndGlyphs">DE PIE</text>
<rect class="ys" x="20" y="347" width="13" height="13"/><rect class="bs" x="36" y="347" width="14" height="13"/>
<text class="t r f7" x="54" y="357" textLength="60" lengthAdjust="spacingAndGlyphs">NIÑO EN BRAZOS</text>
<text class="t r f7" x="11" y="382" textLength="57" lengthAdjust="spacingAndGlyphs">2 RUEDAS/QUAD</text>
<circle class="y" cx="27" cy="392" r="5.5"/><circle class="b" cx="40" cy="392" r="5.5"/>
<text class="t r f7" x="52" y="395" textLength="72" lengthAdjust="spacingAndGlyphs">POSICIÓN PASAJERO</text>
<circle class="y" cx="26" cy="409" r="5.5"/><circle class="b" cx="43" cy="409" r="5.5"/>
<text class="t r f7" x="52" y="412" textLength="78" lengthAdjust="spacingAndGlyphs">PASAJERO ADICIONAL</text>
</g>
<g id="b2-lesividad">
<text class="t r f12" x="193" y="207" textLength="50" lengthAdjust="spacingAndGlyphs">LESIVIDAD</text>
<circle class="y" cx="183" cy="217" r="5.6"/><circle class="b" cx="196" cy="217" r="5.6"/>
<circle class="y" cx="183" cy="233" r="5.6"/><circle class="b" cx="196" cy="233" r="5.6"/>
<circle class="y" cx="183" cy="248" r="5.6"/><circle class="b" cx="196" cy="248" r="5.6"/>
<circle class="y" cx="183" cy="265" r="5.6"/><circle class="b" cx="196" cy="265" r="5.6"/>
<circle class="y" cx="183" cy="281" r="5.6"/><circle class="b" cx="196" cy="281" r="5.6"/>
<circle class="y" cx="183" cy="299" r="5.6"/><circle class="b" cx="196" cy="299" r="5.6"/>
<circle class="y" cx="183" cy="319" r="5.6"/><circle class="b" cx="196" cy="319" r="5.6"/>
<circle class="y" cx="183" cy="336" r="5.6"/><circle class="b" cx="196" cy="336" r="5.6"/>
<circle class="y" cx="183" cy="349" r="5.6"/><circle class="b" cx="196" cy="349" r="5.6"/>
<text class="t r f7" x="209" y="220" textLength="76" lengthAdjust="spacingAndGlyphs">FALLECIDO 24 HORAS</text>
<text class="t r f7" x="209" y="236" textLength="112" lengthAdjust="spacingAndGlyphs">INGRESO SUPERIOR A  24 HORAS</text>
<text class="t r f7" x="209" y="250" textLength="140" lengthAdjust="spacingAndGlyphs">INGRESO INFERIOR O IGUAL A 24 HORAS</text>
<text class="t r f7" x="207" y="268" textLength="180" lengthAdjust="spacingAndGlyphs">ATENCIÓN EN URGENCIAS SIN POSTERIOR INGRESO</text>
<text class="t r f68" x="204" y="287" textLength="214" lengthAdjust="spacingAndGlyphs">ASISTENCIA SANITARIA AMBULATORIA CON POSTERIORIDAD</text>
<text class="t r f7" x="201" y="300" textLength="178" lengthAdjust="spacingAndGlyphs">ASISTENCIA SANITARIA INMEDIATA EN CENTRO DE</text>
<text class="t r f7" x="201" y="308" textLength="58" lengthAdjust="spacingAndGlyphs">SALUD O MUTUA</text>
<text class="t r f68" x="205" y="324" textLength="210" lengthAdjust="spacingAndGlyphs">ASISTENCIA SANITARIA SOLO EN EL LUGAR DEL ACCIDENTE</text>
<text class="t r f7" x="207" y="340" textLength="95" lengthAdjust="spacingAndGlyphs">SIN ASISTENCIA SANITARIA</text>
<text class="t r f7" x="207" y="351" textLength="54" lengthAdjust="spacingAndGlyphs">SE DESCONOCE</text>
</g>
<g id="b2-hospital">
<text class="t k f11" x="179" y="369" textLength="98" lengthAdjust="spacingAndGlyphs">HOSPITAL AL QUE SE</text>
<text class="t k f10"><tspan class="tr" x="179" y="380" textLength="48" lengthAdjust="spacingAndGlyphs">TRASLADA</tspan> <tspan x="232" y="380" textLength="85" lengthAdjust="spacingAndGlyphs">(Nombre del hospital)</tspan></text>
<circle class="y" cx="337" cy="365" r="5.5"/><circle class="b" cx="353" cy="365" r="5.5"/>
<text class="t k f7" x="365" y="368" textLength="54" lengthAdjust="spacingAndGlyphs">SE DESCONOCE</text>
<rect class="bar-y" x="176" y="390" width="245" height="13"/>
<rect class="bar-b" x="176" y="403" width="245" height="14"/>
</g>
<g id="b2-accesorios">
<text class="t r f11" x="431" y="206" textLength="133" lengthAdjust="spacingAndGlyphs">ACCESORIOS DE SEGURIDAD</text>
<text class="t r f7" x="427" y="223" textLength="69" lengthAdjust="spacingAndGlyphs">ADULTOS 4 RUEDAS</text>
<circle class="y" cx="440" cy="237" r="5.5"/><circle class="b" cx="457" cy="237" r="5.5"/>
<circle class="y" cx="440" cy="252" r="5.5"/><circle class="b" cx="457" cy="252" r="5.5"/>
<circle class="y" cx="440" cy="267" r="5.5"/><circle class="b" cx="457" cy="267" r="5.5"/>
<text class="t r f7" x="466" y="241" textLength="46" lengthAdjust="spacingAndGlyphs">CINTURÓN SI</text>
<text class="t r f7" x="466" y="256" textLength="49" lengthAdjust="spacingAndGlyphs">CINTURÓN NO</text>
<text class="t r f7" x="465" y="271" textLength="53" lengthAdjust="spacingAndGlyphs">SE DESCONOCE</text>
<text class="t r f7" x="426" y="285" textLength="86" lengthAdjust="spacingAndGlyphs">2 RUEDAS O QUAD O BICI</text>
<circle class="y" cx="438" cy="296" r="5.5"/><circle class="b" cx="455" cy="296" r="5.5"/>
<circle class="y" cx="438" cy="311" r="5.5"/><circle class="b" cx="455" cy="311" r="5.5"/>
<circle class="y" cx="438" cy="327" r="5.5"/><circle class="b" cx="455" cy="327" r="5.5"/>
<circle class="y" cx="436" cy="353" r="5.5"/><circle class="b" cx="452" cy="353" r="5.5"/>
<text class="t r f7" x="464" y="300" textLength="32" lengthAdjust="spacingAndGlyphs">CASCO SI</text>
<text class="t r f7" x="464" y="315" textLength="35" lengthAdjust="spacingAndGlyphs">CASCO NO</text>
<text class="t r f7" x="467" y="325" textLength="24" lengthAdjust="spacingAndGlyphs">CASCO</text>
<text class="t r f7" x="463" y="334" textLength="61" lengthAdjust="spacingAndGlyphs">SUPUESTAMENTE</text>
<text class="t r f7" x="467" y="342" textLength="42" lengthAdjust="spacingAndGlyphs">EXPULSADO</text>
<text class="t r f7" x="462" y="356" textLength="53" lengthAdjust="spacingAndGlyphs">SE DESCONOCE</text>
<text class="t r f7" x="548" y="223" textLength="80" lengthAdjust="spacingAndGlyphs">NIÑOS HASTA 3 AÑOS Y</text>
<text class="t r f7" x="548" y="231" textLength="94" lengthAdjust="spacingAndGlyphs">PERSONAS HASTA 135 CM Y</text>
<text class="t r f7" x="548" y="239" textLength="87" lengthAdjust="spacingAndGlyphs">NIÑOS HASTA 12 AÑOS EN</text>
<text class="t r f7" x="548" y="247" textLength="84" lengthAdjust="spacingAndGlyphs">ASIENTOS DELANTEROS</text>
<circle class="y" cx="552" cy="266" r="5.5"/><circle class="b" cx="568" cy="266" r="5.5"/>
<circle class="y" cx="552" cy="295" r="5.5"/><circle class="b" cx="568" cy="295" r="5.5"/>
<circle class="y" cx="552" cy="315" r="5.5"/><circle class="b" cx="568" cy="315" r="5.5"/>
<circle class="y" cx="550" cy="343" r="5.5"/><circle class="b" cx="567" cy="343" r="5.5"/>
<text class="t r f7" x="577" y="270" textLength="85" lengthAdjust="spacingAndGlyphs">SISTEMA DE RETENCIÓN</text>
<text class="t r f7" x="573" y="278" textLength="42" lengthAdjust="spacingAndGlyphs">INFANTIL SI</text>
<text class="t r f7" x="578" y="300" textLength="46" lengthAdjust="spacingAndGlyphs">CINTURÓN SI</text>
<text class="t r f7" x="579" y="319" textLength="79" lengthAdjust="spacingAndGlyphs">NI SRI NI CINTURÓN DE</text>
<text class="t r f7" x="575" y="327" textLength="41" lengthAdjust="spacingAndGlyphs">SEGURIDAD</text>
<text class="t r f7" x="577" y="346" textLength="53" lengthAdjust="spacingAndGlyphs">SE DESCONOCE</text>
</g>
<g id="b2-accion">
<text class="t k f12" x="432" y="381" textLength="156" lengthAdjust="spacingAndGlyphs">ACCIÓN ESPECIAL DEL PASAJERO</text>
<circle class="y" cx="434" cy="389" r="5.5"/><circle class="b" cx="450" cy="389" r="5.5"/>
<circle class="y" cx="434" cy="404" r="5.5"/><circle class="b" cx="450" cy="404" r="5.5"/>
<circle class="y" cx="434" cy="417" r="5.5"/><circle class="b" cx="450" cy="417" r="5.5"/>
<text class="t k f7" x="463" y="396" textLength="132" lengthAdjust="spacingAndGlyphs">BAJANDO O SUBIENDO DEL VEHÍCULO</text>
<text class="t k f7" x="463" y="409" textLength="134" lengthAdjust="spacingAndGlyphs">CAÍDA EN LA VÍA DESDE EL VEHÍCULO</text>
<text class="t k f7" x="463" y="420" textLength="84" lengthAdjust="spacingAndGlyphs">CAÍDA DENTRO DEL BUS</text>
</g>
<g id="b2-otros">
<text class="t k" font-size="10.6" x="665" y="206" textLength="166" lengthAdjust="spacingAndGlyphs">OTROS ACCESORIOS DE SEGURIDAD</text>
<text class="t k f70" x="665" y="220" textLength="192" lengthAdjust="spacingAndGlyphs">EQUIPAMIENTO DE PROTECCIÓN (2 RUEDAS A MOTOR) :</text>
<rect class="ys" x="665" y="223" width="13" height="12"/><rect class="bs" x="682" y="222" width="12" height="12"/>
<rect class="ys" x="665" y="238" width="13" height="13"/><rect class="bs" x="682" y="238" width="12" height="13"/>
<rect class="ys" x="665" y="251" width="13" height="13"/><rect class="bs" x="682" y="251" width="12" height="13"/>
<rect class="ys" x="665" y="267" width="13" height="12"/><rect class="bs" x="682" y="267" width="12" height="12"/>
<rect class="ys" x="665" y="284" width="13" height="12"/><rect class="bs" x="682" y="284" width="12" height="12"/>
<rect class="ys" x="665" y="301" width="13" height="12"/><rect class="bs" x="682" y="301" width="12" height="12"/>
<text class="t k f7" x="700" y="234" textLength="28" lengthAdjust="spacingAndGlyphs">BRAZOS</text>
<text class="t k f7" x="700" y="250" textLength="32" lengthAdjust="spacingAndGlyphs">ESPALDA</text>
<text class="t k f7" x="703" y="264" textLength="23" lengthAdjust="spacingAndGlyphs">TORSO</text>
<text class="t k f7" x="702" y="277" textLength="26" lengthAdjust="spacingAndGlyphs">MANOS</text>
<text class="t k f7" x="702" y="295" textLength="30" lengthAdjust="spacingAndGlyphs">PIERNAS</text>
<text class="t k f7" x="702" y="309" textLength="15" lengthAdjust="spacingAndGlyphs">PIES</text>
<rect class="ys" x="741" y="227" width="15" height="13"/><rect class="bs" x="759" y="227" width="14" height="13"/>
<text class="t k f70" x="775" y="236" textLength="82" lengthAdjust="spacingAndGlyphs">PRENDA REFLECTANTE</text>
</g>
<g id="b2-nocontab">
<text class="t k" font-size="12.3" x="695" y="339" textLength="121" lengthAdjust="spacingAndGlyphs">NO CONTABILIZABLE POR</text>
<circle class="y" cx="709" cy="348" r="5.5"/><circle class="b" cx="726" cy="348" r="5.5"/>
<circle class="y" cx="709" cy="361" r="5.5"/><circle class="b" cx="726" cy="361" r="5.5"/>
<circle class="y" cx="710" cy="374" r="5.5"/><circle class="b" cx="726" cy="374" r="5.5"/>
<circle class="y" cx="709" cy="388" r="5.5"/><circle class="b" cx="726" cy="388" r="5.5"/>
<circle class="y" cx="709" cy="408" r="5.5"/><circle class="b" cx="726" cy="408" r="5.5"/>
<text class="t k f7" x="739" y="354" textLength="66" lengthAdjust="spacingAndGlyphs">MUERTE NATURAL</text>
<text class="t k f7" x="742" y="370" textLength="31" lengthAdjust="spacingAndGlyphs">SUICIDIO</text>
<text class="t k f7" x="742" y="381" textLength="76" lengthAdjust="spacingAndGlyphs">INTENTO DE SUICIDIO</text>
<text class="t k f7" x="741" y="395" textLength="40" lengthAdjust="spacingAndGlyphs">HOMICIDIO</text>
<text class="t k f7" x="737" y="412" textLength="43" lengthAdjust="spacingAndGlyphs">INTENTO DE</text>
<text class="t k f7" x="736" y="420" textLength="40" lengthAdjust="spacingAndGlyphs">HOMICIDIO</text>
</g>
</g>

<!-- ================= BLOCK 3 ================= -->
<g id="b3" transform="translate(0,782)">
<g id="b3-connectors">
<line class="dot" x1="3" y1="92" x2="850" y2="92"/>
<line class="dash" x1="24" y1="122" x2="855" y2="122"/>
<line class="dot" x1="3" y1="162" x2="850" y2="162"/>
<line class="dash" x1="8" y1="191" x2="855" y2="191"/>
<line class="vb" x1="620" y1="52" x2="620" y2="84"/>
<line class="vb" x1="248" y1="92" x2="248" y2="118"/>
<line class="vb" x1="530" y1="92" x2="530" y2="121"/>
<line class="vb" x1="617" y1="123" x2="617" y2="155"/>
<line class="vb" x1="246" y1="162" x2="246" y2="190"/>
<line class="vb" x1="529" y1="162" x2="529" y2="190"/>
<line class="dot" x1="172" y1="192" x2="172" y2="430"/>
<line class="dot" x1="421" y1="192" x2="421" y2="430"/>
<line class="dot" x1="664" y1="192" x2="664" y2="430"/>
<line class="vb" x1="172" y1="357.5" x2="421" y2="357.5" stroke-width="2.4"/>
<line class="dot" x1="421" y1="360" x2="664" y2="360"/>
<line class="dot" x1="664" y1="321" x2="855" y2="321"/>
<line class="dot" x1="8" y1="430" x2="855" y2="430"/>
<line class="dd" x1="8" y1="434" x2="855" y2="434"/>
<line class="dd" x1="8" y1="438" x2="855" y2="438"/>
</g>
<g id="b3-pasajero-a">
<rect x="7" y="54" width="17" height="68" fill="#FFFFCC"/>
<text class="t k f10" text-anchor="middle" transform="translate(21.5,88) rotate(-90)" textLength="47" lengthAdjust="spacingAndGlyphs">PASAJERO</text>
<text class="t k f8" x="36" y="64" textLength="88" lengthAdjust="spacingAndGlyphs">NOMBRE Y APELLIDOS</text>
<line class="ul" x1="32" y1="87" x2="252" y2="87"/>
<circle class="y" cx="274" cy="61" r="5.5"/><circle class="y" cx="308" cy="61" r="5.5"/><circle class="y" cx="374" cy="61" r="5.5"/><circle class="y" cx="274" cy="75" r="5.5"/>
<text class="t k f7" x="285" y="64" textLength="11" lengthAdjust="spacingAndGlyphs">NIF</text>
<text class="t k f7" x="321" y="64" textLength="41" lengthAdjust="spacingAndGlyphs">PASAPORTE</text>
<text class="t k f7" x="384" y="64" textLength="64" lengthAdjust="spacingAndGlyphs">T. DE RESIDENCIA</text>
<text class="t k f7" x="286" y="78" textLength="19" lengthAdjust="spacingAndGlyphs">OTRO</text>
<line class="ul" x1="311" y1="86" x2="408" y2="86"/>
<rect class="veh" x="478" y="55" width="20" height="18" fill="#FFFFCC"/>
<text class="t k f13" x="508" y="69" textLength="66" lengthAdjust="spacingAndGlyphs">VEHÍCULO</text>
<text class="t r f11" x="627" y="65" textLength="24" lengthAdjust="spacingAndGlyphs">SEXO</text>
<circle class="y" cx="661" cy="76" r="5.5"/><circle class="y" cx="718" cy="76" r="5.5"/><circle class="y" cx="774" cy="76" r="5.5"/>
<text class="t r f7" x="671" y="79" textLength="31" lengthAdjust="spacingAndGlyphs">HOMBRE</text>
<text class="t r f7" x="729" y="78" textLength="25" lengthAdjust="spacingAndGlyphs">MUJER</text>
<text class="t r f7" x="785" y="79" textLength="51" lengthAdjust="spacingAndGlyphs">DESCONOCIDO</text>
<text class="t r ff" x="28" y="108" textLength="111" lengthAdjust="spacingAndGlyphs">FECHA DE NACIMIENTO</text>
<text class="t r f12" x="157" y="108" textLength="80" lengthAdjust="spacing">__ /__/ ____</text>
<text class="t r" font-size="7.6"><tspan font-size="9.2" x="256" y="107" textLength="73" lengthAdjust="spacingAndGlyphs">NACIONALIDAD</tspan> <tspan x="332" y="107" textLength="62" lengthAdjust="spacingAndGlyphs">(SI EXTRANJERO)</tspan></text>
<text class="t r f12" x="402" y="109" textLength="121" lengthAdjust="spacing">_ _ _ _ _ _ _ _ _ _ _ _ _</text>
<text class="t k f11" x="536" y="104" textLength="129" lengthAdjust="spacingAndGlyphs">POBLACIÓN DE RESIDENCIA</text>
<text class="t k f7"><tspan class="f10" x="536" y="116" textLength="23" lengthAdjust="spacingAndGlyphs">(PAÍS</tspan> <tspan x="563" y="116" textLength="92" lengthAdjust="spacingAndGlyphs">EN CASO DE EXTRANJERO)</tspan></text>
<line class="ul" x1="674" y1="113" x2="778" y2="113"/>
<circle class="y" cx="786" cy="105" r="5.5"/>
<text class="t k f7" x="797" y="108" textLength="54" lengthAdjust="spacingAndGlyphs">SE DESCONOCE</text>
</g>
<g id="b3-pasajero-b">
<rect x="7" y="122" width="17" height="68" fill="#8DB4E2"/>
<text class="t k f10" text-anchor="middle" transform="translate(19.5,155) rotate(-90)" textLength="49" lengthAdjust="spacingAndGlyphs">PASAJERO</text>
<text class="t k f8" x="32" y="135" textLength="87" lengthAdjust="spacingAndGlyphs">NOMBRE Y APELLIDOS</text>
<line class="ul" x1="31" y1="158" x2="244" y2="158"/>
<circle class="b" cx="268" cy="133" r="5.5"/><circle class="b" cx="310" cy="133" r="5.5"/><circle class="b" cx="377" cy="133" r="5.5"/><circle class="b" cx="268" cy="147" r="5.5"/>
<text class="t k f7" x="279" y="136" textLength="12" lengthAdjust="spacingAndGlyphs">NIF</text>
<text class="t k f7" x="319" y="135" textLength="42" lengthAdjust="spacingAndGlyphs">PASAPORTE</text>
<text class="t k f7" x="387" y="136" textLength="64" lengthAdjust="spacingAndGlyphs">T. DE RESIDENCIA</text>
<text class="t k f7" x="280" y="150" textLength="20" lengthAdjust="spacingAndGlyphs">OTRO</text>
<line class="ul" x1="322" y1="156" x2="418" y2="156"/>
<rect class="veh" x="476" y="126" width="20" height="17" fill="#8DB6EE"/>
<text class="t k f13" x="506" y="141" textLength="67" lengthAdjust="spacingAndGlyphs">VEHÍCULO</text>
<text class="t r f11" x="625" y="135" textLength="25" lengthAdjust="spacingAndGlyphs">SEXO</text>
<circle class="b" cx="660" cy="147" r="5.5"/><circle class="b" cx="716" cy="147" r="5.5"/><circle class="b" cx="771" cy="147" r="5.5"/>
<text class="t r f7" x="670" y="150" textLength="30" lengthAdjust="spacingAndGlyphs">HOMBRE</text>
<text class="t r f7" x="728" y="149" textLength="24" lengthAdjust="spacingAndGlyphs">MUJER</text>
<text class="t r f7" x="782" y="150" textLength="51" lengthAdjust="spacingAndGlyphs">DESCONOCIDO</text>
<text class="t r ff" x="25" y="180" textLength="111" lengthAdjust="spacingAndGlyphs">FECHA DE NACIMIENTO</text>
<text class="t r f12" x="151" y="180" textLength="79" lengthAdjust="spacing">__ /__/ ____</text>
<text class="t r" font-size="7.5"><tspan font-size="9.1" x="255" y="179" textLength="73" lengthAdjust="spacingAndGlyphs">NACIONALIDAD</tspan> <tspan x="330" y="179" textLength="62" lengthAdjust="spacingAndGlyphs">(SI EXTRANJERO)</tspan></text>
<text class="t r f12" x="398" y="181" textLength="120" lengthAdjust="spacing">_ _ _ _ _ _ _ _ _ _ _ _ _</text>
<text class="t k f11" x="536" y="174" textLength="129" lengthAdjust="spacingAndGlyphs">POBLACIÓN DE RESIDENCIA</text>
<text class="t k f7"><tspan class="f10" x="536" y="186" textLength="23" lengthAdjust="spacingAndGlyphs">(PAÍS</tspan> <tspan x="563" y="186" textLength="92" lengthAdjust="spacingAndGlyphs">EN CASO DE EXTRANJERO)</tspan></text>
<line class="ul" x1="671" y1="184" x2="775" y2="184"/>
<circle class="b" cx="784" cy="174" r="5.5"/>
<text class="t k f7" x="795" y="177" textLength="54" lengthAdjust="spacingAndGlyphs">SE DESCONOCE</text>
</g>
<g id="b3-posicion">
<text class="t r f11" x="11" y="204" textLength="127" lengthAdjust="spacingAndGlyphs">POSICIÓN EN EL VEHÍCULO</text>
<text class="t r f7" x="16" y="220" textLength="100" lengthAdjust="spacingAndGlyphs">TURISMO/CAMIÓN/AUTOBÚS</text>
<circle class="y" cx="26" cy="236" r="5.5"/><circle class="b" cx="42" cy="236" r="5.5"/>
<circle class="y" cx="26" cy="252" r="5.5"/><circle class="b" cx="42" cy="252" r="5.5"/>
<circle class="y" cx="26" cy="267" r="5.5"/><circle class="b" cx="42" cy="267" r="5.5"/>
<circle class="y" cx="26" cy="284" r="5.5"/><circle class="b" cx="42" cy="284" r="5.5"/>
<circle class="y" cx="26" cy="301" r="5.5"/><circle class="b" cx="42" cy="301" r="5.5"/>
<circle class="y" cx="26" cy="317" r="5.5"/><circle class="b" cx="42" cy="317" r="5.5"/>
<circle class="y" cx="26" cy="334" r="5.5"/><circle class="b" cx="42" cy="334" r="5.5"/>
<text class="t r f7" x="52" y="239" textLength="76" lengthAdjust="spacingAndGlyphs">ASIENTO DELANTERO</text>
<text class="t r f7" x="52" y="256" textLength="111" lengthAdjust="spacingAndGlyphs">ASIENTO DELANTERO CENTRAL</text>
<text class="t r f7" x="52" y="272" textLength="107" lengthAdjust="spacingAndGlyphs">ASIENTO TRASERO IZQUIERDO</text>
<text class="t r f7" x="52" y="288" textLength="102" lengthAdjust="spacingAndGlyphs">ASIENTO TRASERO DERECHO</text>
<text class="t r f7" x="52" y="305" textLength="100" lengthAdjust="spacingAndGlyphs">ASIENTO TRASERO CENTRAL</text>
<text class="t r f7" x="51" y="320" textLength="100" lengthAdjust="spacingAndGlyphs">OTROS ASIENTOS O LITERAS</text>
<text class="t r f7" x="51" y="337" textLength="22" lengthAdjust="spacingAndGlyphs">DE PIE</text>
<rect class="ys" x="20" y="347" width="13" height="13"/><rect class="bs" x="36" y="347" width="14" height="13"/>
<text class="t r f7" x="54" y="357" textLength="60" lengthAdjust="spacingAndGlyphs">NIÑO EN BRAZOS</text>
<text class="t r f7" x="11" y="382" textLength="57" lengthAdjust="spacingAndGlyphs">2 RUEDAS/QUAD</text>
<circle class="y" cx="27" cy="392" r="5.5"/><circle class="b" cx="40" cy="392" r="5.5"/>
<text class="t r f7" x="52" y="395" textLength="72" lengthAdjust="spacingAndGlyphs">POSICIÓN PASAJERO</text>
<circle class="y" cx="26" cy="409" r="5.5"/><circle class="b" cx="43" cy="409" r="5.5"/>
<text class="t r f7" x="52" y="412" textLength="78" lengthAdjust="spacingAndGlyphs">PASAJERO ADICIONAL</text>
</g>
<g id="b3-lesividad">
<text class="t r f12" x="193" y="207" textLength="50" lengthAdjust="spacingAndGlyphs">LESIVIDAD</text>
<circle class="y" cx="183" cy="217" r="5.6"/><circle class="b" cx="196" cy="217" r="5.6"/>
<circle class="y" cx="183" cy="233" r="5.6"/><circle class="b" cx="196" cy="233" r="5.6"/>
<circle class="y" cx="183" cy="248" r="5.6"/><circle class="b" cx="196" cy="248" r="5.6"/>
<circle class="y" cx="183" cy="265" r="5.6"/><circle class="b" cx="196" cy="265" r="5.6"/>
<circle class="y" cx="183" cy="281" r="5.6"/><circle class="b" cx="196" cy="281" r="5.6"/>
<circle class="y" cx="183" cy="299" r="5.6"/><circle class="b" cx="196" cy="299" r="5.6"/>
<circle class="y" cx="183" cy="319" r="5.6"/><circle class="b" cx="196" cy="319" r="5.6"/>
<circle class="y" cx="183" cy="336" r="5.6"/><circle class="b" cx="196" cy="336" r="5.6"/>
<circle class="y" cx="183" cy="349" r="5.6"/><circle class="b" cx="196" cy="349" r="5.6"/>
<text class="t r f7" x="209" y="220" textLength="76" lengthAdjust="spacingAndGlyphs">FALLECIDO 24 HORAS</text>
<text class="t r f7" x="209" y="236" textLength="112" lengthAdjust="spacingAndGlyphs">INGRESO SUPERIOR A  24 HORAS</text>
<text class="t r f7" x="209" y="250" textLength="140" lengthAdjust="spacingAndGlyphs">INGRESO INFERIOR O IGUAL A 24 HORAS</text>
<text class="t r f7" x="207" y="268" textLength="180" lengthAdjust="spacingAndGlyphs">ATENCIÓN EN URGENCIAS SIN POSTERIOR INGRESO</text>
<text class="t r f68" x="204" y="287" textLength="214" lengthAdjust="spacingAndGlyphs">ASISTENCIA SANITARIA AMBULATORIA CON POSTERIORIDAD</text>
<text class="t r f7" x="201" y="300" textLength="178" lengthAdjust="spacingAndGlyphs">ASISTENCIA SANITARIA INMEDIATA EN CENTRO DE</text>
<text class="t r f7" x="201" y="308" textLength="58" lengthAdjust="spacingAndGlyphs">SALUD O MUTUA</text>
<text class="t r f68" x="205" y="324" textLength="210" lengthAdjust="spacingAndGlyphs">ASISTENCIA SANITARIA SOLO EN EL LUGAR DEL ACCIDENTE</text>
<text class="t r f7" x="207" y="340" textLength="95" lengthAdjust="spacingAndGlyphs">SIN ASISTENCIA SANITARIA</text>
<text class="t r f7" x="207" y="351" textLength="54" lengthAdjust="spacingAndGlyphs">SE DESCONOCE</text>
</g>
<g id="b3-hospital">
<text class="t k f11" x="179" y="369" textLength="98" lengthAdjust="spacingAndGlyphs">HOSPITAL AL QUE SE</text>
<text class="t k f10"><tspan class="tr" x="179" y="380" textLength="48" lengthAdjust="spacingAndGlyphs">TRASLADA</tspan> <tspan x="232" y="380" textLength="85" lengthAdjust="spacingAndGlyphs">(Nombre del hospital)</tspan></text>
<circle class="y" cx="337" cy="365" r="5.5"/><circle class="b" cx="353" cy="365" r="5.5"/>
<text class="t k f7" x="365" y="368" textLength="54" lengthAdjust="spacingAndGlyphs">SE DESCONOCE</text>
<rect class="bar-y" x="176" y="390" width="245" height="13"/>
<rect class="bar-b" x="176" y="403" width="245" height="14"/>
</g>
<g id="b3-accesorios">
<text class="t r f11" x="431" y="206" textLength="133" lengthAdjust="spacingAndGlyphs">ACCESORIOS DE SEGURIDAD</text>
<text class="t r f7" x="427" y="223" textLength="69" lengthAdjust="spacingAndGlyphs">ADULTOS 4 RUEDAS</text>
<circle class="y" cx="440" cy="237" r="5.5"/><circle class="b" cx="457" cy="237" r="5.5"/>
<circle class="y" cx="440" cy="252" r="5.5"/><circle class="b" cx="457" cy="252" r="5.5"/>
<circle class="y" cx="440" cy="267" r="5.5"/><circle class="b" cx="457" cy="267" r="5.5"/>
<text class="t r f7" x="466" y="241" textLength="46" lengthAdjust="spacingAndGlyphs">CINTURÓN SI</text>
<text class="t r f7" x="466" y="256" textLength="49" lengthAdjust="spacingAndGlyphs">CINTURÓN NO</text>
<text class="t r f7" x="465" y="271" textLength="53" lengthAdjust="spacingAndGlyphs">SE DESCONOCE</text>
<text class="t r f7" x="426" y="285" textLength="86" lengthAdjust="spacingAndGlyphs">2 RUEDAS O QUAD O BICI</text>
<circle class="y" cx="438" cy="296" r="5.5"/><circle class="b" cx="455" cy="296" r="5.5"/>
<circle class="y" cx="438" cy="311" r="5.5"/><circle class="b" cx="455" cy="311" r="5.5"/>
<circle class="y" cx="438" cy="327" r="5.5"/><circle class="b" cx="455" cy="327" r="5.5"/>
<circle class="y" cx="436" cy="353" r="5.5"/><circle class="b" cx="452" cy="353" r="5.5"/>
<text class="t r f7" x="464" y="300" textLength="32" lengthAdjust="spacingAndGlyphs">CASCO SI</text>
<text class="t r f7" x="464" y="315" textLength="35" lengthAdjust="spacingAndGlyphs">CASCO NO</text>
<text class="t r f7" x="467" y="325" textLength="24" lengthAdjust="spacingAndGlyphs">CASCO</text>
<text class="t r f7" x="463" y="334" textLength="61" lengthAdjust="spacingAndGlyphs">SUPUESTAMENTE</text>
<text class="t r f7" x="467" y="342" textLength="42" lengthAdjust="spacingAndGlyphs">EXPULSADO</text>
<text class="t r f7" x="462" y="356" textLength="53" lengthAdjust="spacingAndGlyphs">SE DESCONOCE</text>
<text class="t r f7" x="548" y="223" textLength="80" lengthAdjust="spacingAndGlyphs">NIÑOS HASTA 3 AÑOS Y</text>
<text class="t r f7" x="548" y="231" textLength="94" lengthAdjust="spacingAndGlyphs">PERSONAS HASTA 135 CM Y</text>
<text class="t r f7" x="548" y="239" textLength="87" lengthAdjust="spacingAndGlyphs">NIÑOS HASTA 12 AÑOS EN</text>
<text class="t r f7" x="548" y="247" textLength="84" lengthAdjust="spacingAndGlyphs">ASIENTOS DELANTEROS</text>
<circle class="y" cx="552" cy="266" r="5.5"/><circle class="b" cx="568" cy="266" r="5.5"/>
<circle class="y" cx="552" cy="295" r="5.5"/><circle class="b" cx="568" cy="295" r="5.5"/>
<circle class="y" cx="552" cy="315" r="5.5"/><circle class="b" cx="568" cy="315" r="5.5"/>
<circle class="y" cx="550" cy="343" r="5.5"/><circle class="b" cx="567" cy="343" r="5.5"/>
<text class="t r f7" x="577" y="270" textLength="85" lengthAdjust="spacingAndGlyphs">SISTEMA DE RETENCIÓN</text>
<text class="t r f7" x="573" y="278" textLength="42" lengthAdjust="spacingAndGlyphs">INFANTIL SI</text>
<text class="t r f7" x="578" y="300" textLength="46" lengthAdjust="spacingAndGlyphs">CINTURÓN SI</text>
<text class="t r f7" x="579" y="319" textLength="79" lengthAdjust="spacingAndGlyphs">NI SRI NI CINTURÓN DE</text>
<text class="t r f7" x="575" y="327" textLength="41" lengthAdjust="spacingAndGlyphs">SEGURIDAD</text>
<text class="t r f7" x="577" y="346" textLength="53" lengthAdjust="spacingAndGlyphs">SE DESCONOCE</text>
</g>
<g id="b3-accion">
<text class="t k f12" x="432" y="381" textLength="156" lengthAdjust="spacingAndGlyphs">ACCIÓN ESPECIAL DEL PASAJERO</text>
<circle class="y" cx="434" cy="389" r="5.5"/><circle class="b" cx="450" cy="389" r="5.5"/>
<circle class="y" cx="434" cy="404" r="5.5"/><circle class="b" cx="450" cy="404" r="5.5"/>
<circle class="y" cx="434" cy="417" r="5.5"/><circle class="b" cx="450" cy="417" r="5.5"/>
<text class="t k f7" x="463" y="396" textLength="132" lengthAdjust="spacingAndGlyphs">BAJANDO O SUBIENDO DEL VEHÍCULO</text>
<text class="t k f7" x="463" y="409" textLength="134" lengthAdjust="spacingAndGlyphs">CAÍDA EN LA VÍA DESDE EL VEHÍCULO</text>
<text class="t k f7" x="463" y="420" textLength="84" lengthAdjust="spacingAndGlyphs">CAÍDA DENTRO DEL BUS</text>
</g>
<g id="b3-otros">
<text class="t k" font-size="10.6" x="665" y="206" textLength="166" lengthAdjust="spacingAndGlyphs">OTROS ACCESORIOS DE SEGURIDAD</text>
<text class="t k f70" x="665" y="220" textLength="192" lengthAdjust="spacingAndGlyphs">EQUIPAMIENTO DE PROTECCIÓN (2 RUEDAS A MOTOR) :</text>
<rect class="ys" x="665" y="223" width="13" height="12"/><rect class="bs" x="682" y="222" width="12" height="12"/>
<rect class="ys" x="665" y="238" width="13" height="13"/><rect class="bs" x="682" y="238" width="12" height="13"/>
<rect class="ys" x="665" y="251" width="13" height="13"/><rect class="bs" x="682" y="251" width="12" height="13"/>
<rect class="ys" x="665" y="267" width="13" height="12"/><rect class="bs" x="682" y="267" width="12" height="12"/>
<rect class="ys" x="665" y="284" width="13" height="12"/><rect class="bs" x="682" y="284" width="12" height="12"/>
<rect class="ys" x="665" y="301" width="13" height="12"/><rect class="bs" x="682" y="301" width="12" height="12"/>
<text class="t k f7" x="700" y="234" textLength="28" lengthAdjust="spacingAndGlyphs">BRAZOS</text>
<text class="t k f7" x="700" y="250" textLength="32" lengthAdjust="spacingAndGlyphs">ESPALDA</text>
<text class="t k f7" x="703" y="264" textLength="23" lengthAdjust="spacingAndGlyphs">TORSO</text>
<text class="t k f7" x="702" y="277" textLength="26" lengthAdjust="spacingAndGlyphs">MANOS</text>
<text class="t k f7" x="702" y="295" textLength="30" lengthAdjust="spacingAndGlyphs">PIERNAS</text>
<text class="t k f7" x="702" y="309" textLength="15" lengthAdjust="spacingAndGlyphs">PIES</text>
<rect class="ys" x="741" y="227" width="15" height="13"/><rect class="bs" x="759" y="227" width="14" height="13"/>
<text class="t k f70" x="775" y="236" textLength="82" lengthAdjust="spacingAndGlyphs">PRENDA REFLECTANTE</text>
</g>
<g id="b3-nocontab">
<text class="t k" font-size="12.3" x="695" y="339" textLength="121" lengthAdjust="spacingAndGlyphs">NO CONTABILIZABLE POR</text>
<circle class="y" cx="709" cy="348" r="5.5"/><circle class="b" cx="726" cy="348" r="5.5"/>
<circle class="y" cx="709" cy="361" r="5.5"/><circle class="b" cx="726" cy="361" r="5.5"/>
<circle class="y" cx="710" cy="374" r="5.5"/><circle class="b" cx="726" cy="374" r="5.5"/>
<circle class="y" cx="709" cy="388" r="5.5"/><circle class="b" cx="726" cy="388" r="5.5"/>
<circle class="y" cx="709" cy="408" r="5.5"/><circle class="b" cx="726" cy="408" r="5.5"/>
<text class="t k f7" x="739" y="354" textLength="66" lengthAdjust="spacingAndGlyphs">MUERTE NATURAL</text>
<text class="t k f7" x="742" y="370" textLength="31" lengthAdjust="spacingAndGlyphs">SUICIDIO</text>
<text class="t k f7" x="742" y="381" textLength="76" lengthAdjust="spacingAndGlyphs">INTENTO DE SUICIDIO</text>
<text class="t k f7" x="741" y="395" textLength="40" lengthAdjust="spacingAndGlyphs">HOMICIDIO</text>
<text class="t k f7" x="737" y="412" textLength="43" lengthAdjust="spacingAndGlyphs">INTENTO DE</text>
<text class="t k f7" x="736" y="420" textLength="40" lengthAdjust="spacingAndGlyphs">HOMICIDIO</text>
</g>
</g>
</svg>
